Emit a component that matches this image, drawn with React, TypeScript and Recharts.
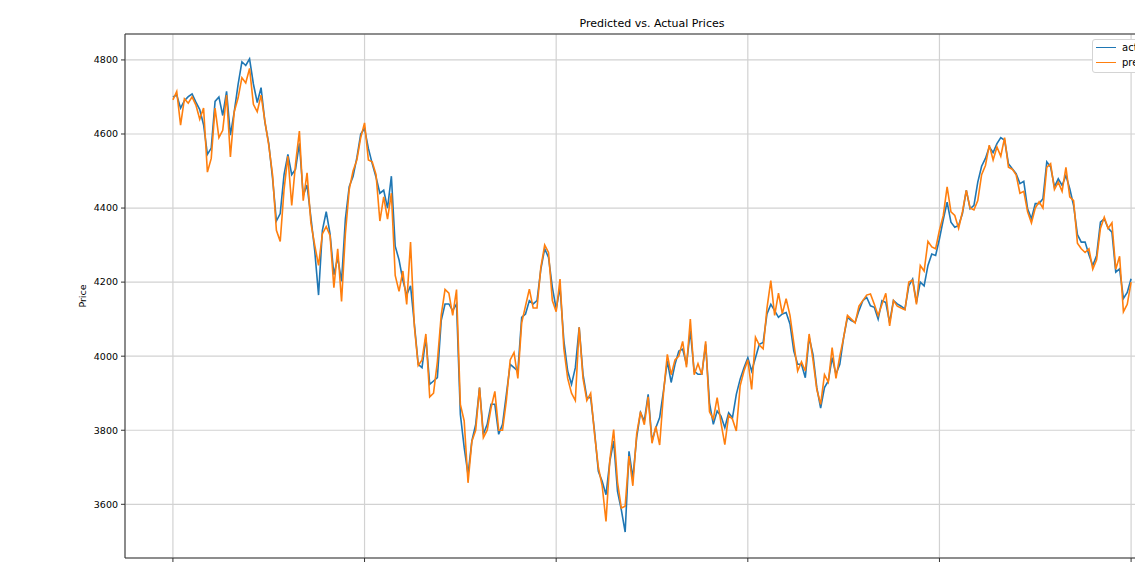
import React from 'react';
import { LineChart, Line, XAxis, YAxis, CartesianGrid, Legend, ReferenceArea } from 'recharts';

const FONT = '"DejaVu Sans", sans-serif';

// one reading for every second step of the test window
const STEP = 2;

const actual = [
  4700, 4705, 4670, 4690, 4701, 4708, 4686, 4666, 4625, 4545, 4562, 4688, 4700, 4650, 4715, 4597, 4660, 4733, 4795, 4785,
  4803, 4735, 4685, 4725, 4632, 4575, 4480, 4365, 4385, 4490, 4545, 4490, 4505, 4575, 4434, 4462, 4375, 4285, 4165, 4340,
  4390, 4330, 4220, 4266, 4202, 4370, 4458, 4485, 4536, 4600, 4615, 4561, 4520, 4483, 4440, 4448, 4400, 4486, 4297, 4260,
  4205, 4165,
  4190, 4087, 3978, 3969, 4050, 3924, 3933, 3942, 4096, 4141, 4141, 4123, 4141, 3843, 3753, 3680, 3771, 3816, 3915, 3789,
  3816, 3870, 3870, 3789, 3816, 3897, 3978, 3969, 3960, 4105, 4114, 4150, 4141, 4150, 4235, 4290, 4267, 4186, 4127, 4186,
  4042, 3960, 3924, 3969, 4078, 3951, 3888, 3888, 3798, 3689, 3662, 3626, 3716, 3771, 3635, 3585, 3525, 3743, 3671, 3780,
  3848, 3825, 3897, 3771, 3807, 3834, 3906, 3987, 3929, 3978, 4014, 4019, 3978, 4069, 3960, 3951, 3951, 4032, 3874, 3816,
  3852, 3838, 3807, 3847, 3834, 3897, 3938, 3969, 3996, 3960, 3996, 4032, 4037, 4114, 4140, 4123, 4105, 4114, 4118, 4087,
  4014, 3978, 3978, 3942, 4051, 4005, 3915, 3860, 3915, 3933, 3996, 3951, 3978, 4051, 4105, 4096, 4091, 4123, 4150, 4159,
  4136, 4132,
  4100, 4150, 4145, 4091, 4150, 4141, 4135, 4127, 4190, 4208, 4145, 4200, 4190, 4245, 4276, 4272, 4317, 4369, 4416, 4362,
  4348, 4353, 4385, 4448, 4398, 4407, 4470, 4513, 4534, 4565, 4550, 4574, 4590, 4583, 4520, 4506, 4493, 4466, 4472, 4398,
  4371, 4412, 4412, 4425, 4525, 4511, 4457, 4479, 4461, 4488, 4452, 4407, 4328, 4308, 4308, 4274, 4245, 4272, 4362, 4371,
  4346, 4335, 4227, 4236, 4156, 4172, 4209,
];

const predicted = [
  4692, 4715, 4624, 4695, 4683, 4700, 4678, 4640, 4670, 4497, 4534, 4670, 4590, 4610, 4705, 4538, 4660, 4697, 4752, 4738,
  4777, 4680, 4660, 4705, 4635, 4570, 4490, 4340, 4310, 4450, 4540, 4407, 4520, 4608, 4420, 4495, 4360, 4300, 4245, 4330,
  4350, 4326, 4185, 4290, 4148, 4330, 4450, 4500, 4530, 4590, 4630, 4530, 4525, 4490, 4365, 4430, 4370, 4440, 4218, 4175,
  4230, 4140,
  4308, 4080, 3975, 3990, 4060, 3890, 3900, 3985, 4110, 4180, 4170, 4110, 4180, 3870, 3825, 3658, 3770, 3800, 3915, 3780,
  3800, 3860, 3905, 3800, 3800, 3880, 3990, 4010, 3940, 4090, 4136, 4181, 4130, 4130, 4240, 4300, 4280, 4150, 4120, 4208,
  4020, 3940, 3900, 3880, 4078, 3940, 3880, 3900, 3790, 3700, 3650, 3554, 3720, 3802, 3660, 3590, 3595, 3730, 3650, 3790,
  3850, 3815, 3890, 3765, 3810, 3760, 3900, 4005, 3950, 3990, 4000, 4040, 3970, 4100, 3950, 3980, 3950, 4040, 3850, 3830,
  3888, 3820, 3761, 3840, 3830, 3798, 3920, 3960, 3990, 3910, 4051, 4030, 4020, 4130, 4204, 4110, 4170, 4115, 4155, 4110,
  4035, 3960, 3985, 3960, 4060, 3990, 3910, 3870, 3950, 3930, 4023, 3940, 4000, 4050, 4110, 4100, 4090, 4135, 4150, 4165,
  4168, 4140,
  4110, 4140, 4170, 4082, 4150, 4135, 4130, 4125, 4200, 4205, 4140, 4245, 4230, 4310, 4295, 4290, 4340, 4380, 4457, 4390,
  4380, 4345, 4390, 4448, 4400, 4395, 4420, 4490, 4515, 4570, 4530, 4565, 4540, 4590, 4510, 4505, 4490, 4440, 4445, 4390,
  4360, 4400, 4417, 4400, 4510, 4520, 4450, 4470, 4445, 4510, 4430, 4420, 4305, 4290, 4280, 4290, 4235, 4260, 4345, 4375,
  4345, 4360, 4235, 4270, 4120, 4140, 4200,
];

const xTicks = [0, 100, 200, 300, 400, 500];
const yTicks = [3600, 3800, 4000, 4200, 4400, 4600, 4800];
const xDomain = [-25, 525];
const yDomain = [3455, 4870];

const series = [
  { key: 'actual', color: '#1f77b4' },
  { key: 'predicted', color: '#ff7f0e' },
];

const data = actual.map((v, k) => ({ t: k * STEP, actual: v, predicted: predicted[k] }));

const EmptyTick = () => <g />;

const PriceLabel = (props: any) => {
  const { viewBox } = props;
  const x = viewBox.x + 21;
  const y = viewBox.y + viewBox.height / 2;
  return (
    <text x={x} y={y} transform={`rotate(-90 ${x} ${y})`} textAnchor="middle" fontSize={9.5} fontFamily={FONT} fill="#000">
      Price
    </text>
  );
};

const LegendBox = () => (
  <div
    style={{
      border: '1px solid #d4d4d4',
      borderRadius: 3,
      background: '#fff',
      padding: '0 6px 2px 3px',
      fontFamily: FONT,
      fontSize: 10,
      lineHeight: '15px',
      color: '#000',
      whiteSpace: 'nowrap',
    }}
  >
    {series.map(s => (
      <div key={s.key} style={{ display: 'flex', alignItems: 'center' }}>
        <span style={{ display: 'inline-block', width: 20, borderTop: `1.5px solid ${s.color}`, marginRight: 6 }} />
        {s.key}
      </div>
    ))}
  </div>
);

export default function App() {
  return (
    <div style={{ position: 'absolute', left: 0, top: 0, width: 1135, height: 563, overflow: 'hidden', background: '#fff', fontFamily: FONT }}>
      <div style={{ position: 'absolute', top: 17, left: 0, width: 1304, textAlign: 'center', fontSize: 11, lineHeight: '14px', color: '#000' }}>
        Predicted vs. Actual Prices
      </div>
      {/* the legend box height is taken from the plot area, so the chart is made taller by that much */}
      <LineChart width={1200} height={635} data={data} margin={{ top: 34, right: 21, left: 65, bottom: 13 }}>
        <CartesianGrid stroke="#d2d2d2" strokeWidth={1.2} />
        <XAxis
          dataKey="t"
          type="number"
          domain={xDomain}
          ticks={xTicks}
          allowDataOverflow
          tick={EmptyTick}
          tickSize={4}
          tickLine={{ stroke: '#333' }}
          axisLine={false}
          height={30}
        />
        <YAxis
          type="number"
          domain={yDomain}
          ticks={yTicks}
          allowDataOverflow
          width={60}
          tickSize={4}
          tickMargin={3}
          tickLine={{ stroke: '#333' }}
          axisLine={false}
          tick={{ fontSize: 9.5, fill: '#000', fontFamily: FONT }}
          label={<PriceLabel />}
        />
        <ReferenceArea x1={xDomain[0]} x2={xDomain[1]} y1={yDomain[0]} y2={yDomain[1]} fill="none" stroke="#333" strokeWidth={1} ifOverflow="visible" />
        {series.map(s => (
          <Line
            key={s.key}
            type="linear"
            dataKey={s.key}
            stroke={s.color}
            strokeWidth={1.6}
            dot={false}
            activeDot={false}
            isAnimationActive={false}
          />
        ))}
        <Legend content={<LegendBox />} wrapperStyle={{ left: 1092, top: 39, width: 100 }} />
      </LineChart>
    </div>
  );
}
